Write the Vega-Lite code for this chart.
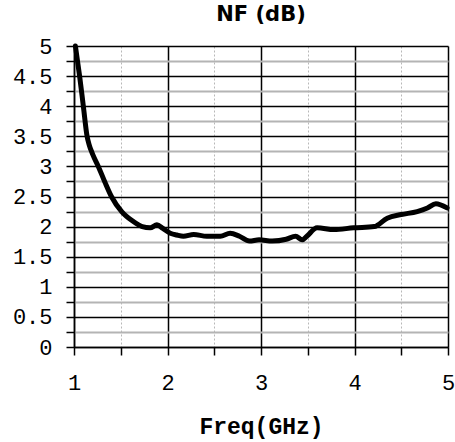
{
  "$schema": "https://vega.github.io/schema/vega-lite/v6.json",
  "autosize": "none",
  "width": 374,
  "height": 301,
  "padding": {"left": 74, "top": 46, "right": 7, "bottom": 95},
  "background": "white",
  "config": {"view": {"stroke": null}},
  "title": {"text": "NF (dB)", "font": "DejaVu Sans", "fontWeight": "bold", "fontSize": 21, "color": "black", "anchor": "middle", "offset": 10},
  "data": {"values": [
    {"freq": 1.015, "nf": 5.0},
    {"freq": 1.06, "nf": 4.5},
    {"freq": 1.10, "nf": 4.0},
    {"freq": 1.14, "nf": 3.5},
    {"freq": 1.16, "nf": 3.37},
    {"freq": 1.2, "nf": 3.2},
    {"freq": 1.26, "nf": 3.0},
    {"freq": 1.33, "nf": 2.74},
    {"freq": 1.40, "nf": 2.5},
    {"freq": 1.51, "nf": 2.25},
    {"freq": 1.62, "nf": 2.1},
    {"freq": 1.73, "nf": 2.0},
    {"freq": 1.815, "nf": 1.98},
    {"freq": 1.887, "nf": 2.03},
    {"freq": 1.95, "nf": 1.97},
    {"freq": 2.03, "nf": 1.89},
    {"freq": 2.1, "nf": 1.86},
    {"freq": 2.17, "nf": 1.84},
    {"freq": 2.28, "nf": 1.87},
    {"freq": 2.42, "nf": 1.84},
    {"freq": 2.565, "nf": 1.84},
    {"freq": 2.67, "nf": 1.89},
    {"freq": 2.77, "nf": 1.84},
    {"freq": 2.876, "nf": 1.76},
    {"freq": 2.98, "nf": 1.78},
    {"freq": 3.12, "nf": 1.76},
    {"freq": 3.27, "nf": 1.79},
    {"freq": 3.37, "nf": 1.84},
    {"freq": 3.44, "nf": 1.78},
    {"freq": 3.49, "nf": 1.84},
    {"freq": 3.60, "nf": 1.98},
    {"freq": 3.78, "nf": 1.95},
    {"freq": 3.99, "nf": 1.98},
    {"freq": 4.21, "nf": 2.0},
    {"freq": 4.35, "nf": 2.14},
    {"freq": 4.50, "nf": 2.2},
    {"freq": 4.67, "nf": 2.25},
    {"freq": 4.78, "nf": 2.31},
    {"freq": 4.87, "nf": 2.38},
    {"freq": 4.99, "nf": 2.31}
  ]},
  "mark": {"type": "line", "color": "black", "strokeWidth": 5, "interpolate": "monotone", "strokeJoin": "round", "strokeCap": "round"},
  "encoding": {
    "x": {
      "field": "freq", "type": "quantitative",
      "scale": {"domain": [1, 5], "nice": false, "zero": false},
      "axis": {
        "title": "Freq(GHz)",
        "titleFont": "Liberation Mono", "titleFontWeight": "bold", "titleFontSize": 23, "titleColor": "black", "titlePadding": 22,
        "values": [1, 1.5, 2, 2.5, 3, 3.5, 4, 4.5, 5],
        "labelExpr": "datum.value % 1 === 0 ? '' + datum.value : ''",
        "labelFont": "Liberation Mono", "labelFontSize": 22, "labelColor": "black", "labelPadding": 17, "labelFlush": false,
        "domainColor": "black", "domainWidth": 1.5,
        "tickColor": "black", "tickSize": 8, "tickWidth": 1.5,
        "grid": true,
        "gridColor": {"condition": {"test": "datum.value % 1 === 0", "value": "black"}, "value": "#b8b8b8"},
        "gridWidth": {"condition": {"test": "datum.value % 1 === 0", "value": 1.5}, "value": 1},
        "gridDash": {"condition": {"test": "datum.value % 1 === 0", "value": []}, "value": [2, 2]},
        "gridOpacity": 1
      }
    },
    "y": {
      "field": "nf", "type": "quantitative",
      "scale": {"domain": [0, 5], "nice": false},
      "axis": {
        "title": null,
        "values": [0, 0.25, 0.5, 0.75, 1, 1.25, 1.5, 1.75, 2, 2.25, 2.5, 2.75, 3, 3.25, 3.5, 3.75, 4, 4.25, 4.5, 4.75, 5],
        "labelExpr": "datum.value % 0.5 === 0 ? '' + datum.value : ''",
        "labelFont": "Liberation Mono", "labelFontSize": 22, "labelColor": "black", "labelPadding": 14, "labelFlush": false,
        "domainColor": "black", "domainWidth": 1.5,
        "tickColor": "black", "tickSize": 8, "tickWidth": 1.5,
        "grid": true,
        "gridColor": {"condition": {"test": "datum.value % 0.5 === 0", "value": "black"}, "value": "#b4b4b4"},
        "gridWidth": {"condition": {"test": "datum.value % 0.5 === 0", "value": 1.5}, "value": 2},
        "gridOpacity": 1
      }
    }
  }
}
